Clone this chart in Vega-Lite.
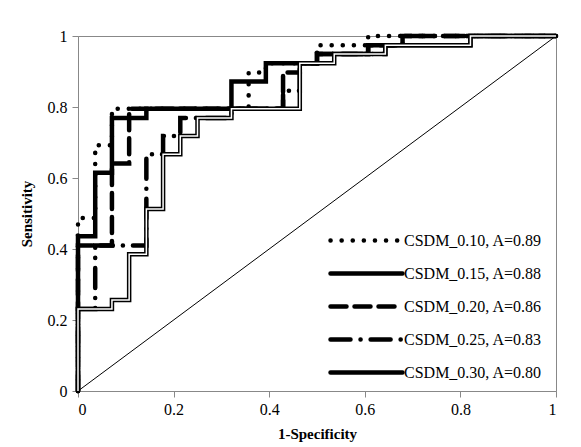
{
  "$schema": "https://vega.github.io/schema/vega-lite/v6.json",
  "width": 478,
  "height": 355,
  "autosize": {"type": "none"},
  "padding": {"left": 78, "top": 36, "right": 25, "bottom": 56},
  "background": "white",
  "config": {
    "view": {"stroke": "#888888", "strokeWidth": 1},
    "font": "Liberation Serif",
    "axis": {
      "grid": false,
      "domainColor": "#888888",
      "tickColor": "#888888",
      "tickSize": 6,
      "labelFont": "Liberation Serif",
      "labelFontSize": 16,
      "labelColor": "black",
      "titleFont": "Liberation Serif",
      "titleFontSize": 15,
      "titleFontWeight": "bold",
      "titleColor": "black"
    },
    "axisX": {"labelPadding": 4, "titlePadding": 9},
    "axisY": {"labelPadding": 5, "titlePadding": 13}
  },
  "datasets": {
    "curves": [
      {"s": "CSDM_0.10, A=0.89", "i": 0, "x": 0, "y": 0},
      {"s": "CSDM_0.10, A=0.89", "i": 1, "x": 0, "y": 0.487},
      {"s": "CSDM_0.10, A=0.89", "i": 2, "x": 0.036, "y": 0.487},
      {"s": "CSDM_0.10, A=0.89", "i": 3, "x": 0.036, "y": 0.692},
      {"s": "CSDM_0.10, A=0.89", "i": 4, "x": 0.071, "y": 0.692},
      {"s": "CSDM_0.10, A=0.89", "i": 5, "x": 0.071, "y": 0.795},
      {"s": "CSDM_0.10, A=0.89", "i": 6, "x": 0.357, "y": 0.795},
      {"s": "CSDM_0.10, A=0.89", "i": 7, "x": 0.357, "y": 0.897},
      {"s": "CSDM_0.10, A=0.89", "i": 8, "x": 0.393, "y": 0.897},
      {"s": "CSDM_0.10, A=0.89", "i": 9, "x": 0.393, "y": 0.923},
      {"s": "CSDM_0.10, A=0.89", "i": 10, "x": 0.5, "y": 0.923},
      {"s": "CSDM_0.10, A=0.89", "i": 11, "x": 0.5, "y": 0.974},
      {"s": "CSDM_0.10, A=0.89", "i": 12, "x": 0.607, "y": 0.974},
      {"s": "CSDM_0.10, A=0.89", "i": 13, "x": 0.607, "y": 1},
      {"s": "CSDM_0.10, A=0.89", "i": 14, "x": 1, "y": 1},

      {"s": "CSDM_0.15, A=0.88", "i": 0, "x": 0, "y": 0},
      {"s": "CSDM_0.15, A=0.88", "i": 1, "x": 0, "y": 0.436},
      {"s": "CSDM_0.15, A=0.88", "i": 2, "x": 0.036, "y": 0.436},
      {"s": "CSDM_0.15, A=0.88", "i": 3, "x": 0.036, "y": 0.615},
      {"s": "CSDM_0.15, A=0.88", "i": 4, "x": 0.071, "y": 0.615},
      {"s": "CSDM_0.15, A=0.88", "i": 5, "x": 0.071, "y": 0.769},
      {"s": "CSDM_0.15, A=0.88", "i": 6, "x": 0.143, "y": 0.769},
      {"s": "CSDM_0.15, A=0.88", "i": 7, "x": 0.143, "y": 0.795},
      {"s": "CSDM_0.15, A=0.88", "i": 8, "x": 0.321, "y": 0.795},
      {"s": "CSDM_0.15, A=0.88", "i": 9, "x": 0.321, "y": 0.872},
      {"s": "CSDM_0.15, A=0.88", "i": 10, "x": 0.393, "y": 0.872},
      {"s": "CSDM_0.15, A=0.88", "i": 11, "x": 0.393, "y": 0.923},
      {"s": "CSDM_0.15, A=0.88", "i": 12, "x": 0.5, "y": 0.923},
      {"s": "CSDM_0.15, A=0.88", "i": 13, "x": 0.5, "y": 0.949},
      {"s": "CSDM_0.15, A=0.88", "i": 14, "x": 0.607, "y": 0.949},
      {"s": "CSDM_0.15, A=0.88", "i": 15, "x": 0.607, "y": 0.974},
      {"s": "CSDM_0.15, A=0.88", "i": 16, "x": 0.821, "y": 0.974},
      {"s": "CSDM_0.15, A=0.88", "i": 17, "x": 0.821, "y": 1},
      {"s": "CSDM_0.15, A=0.88", "i": 18, "x": 1, "y": 1},

      {"s": "CSDM_0.20, A=0.86", "i": 0, "x": 0, "y": 0},
      {"s": "CSDM_0.20, A=0.86", "i": 1, "x": 0, "y": 0.41},
      {"s": "CSDM_0.20, A=0.86", "i": 2, "x": 0.071, "y": 0.41},
      {"s": "CSDM_0.20, A=0.86", "i": 3, "x": 0.071, "y": 0.641},
      {"s": "CSDM_0.20, A=0.86", "i": 4, "x": 0.107, "y": 0.641},
      {"s": "CSDM_0.20, A=0.86", "i": 5, "x": 0.107, "y": 0.795},
      {"s": "CSDM_0.20, A=0.86", "i": 6, "x": 0.429, "y": 0.795},
      {"s": "CSDM_0.20, A=0.86", "i": 7, "x": 0.429, "y": 0.897},
      {"s": "CSDM_0.20, A=0.86", "i": 8, "x": 0.464, "y": 0.897},
      {"s": "CSDM_0.20, A=0.86", "i": 9, "x": 0.464, "y": 0.923},
      {"s": "CSDM_0.20, A=0.86", "i": 10, "x": 0.5, "y": 0.923},
      {"s": "CSDM_0.20, A=0.86", "i": 11, "x": 0.5, "y": 0.949},
      {"s": "CSDM_0.20, A=0.86", "i": 12, "x": 0.607, "y": 0.949},
      {"s": "CSDM_0.20, A=0.86", "i": 13, "x": 0.607, "y": 0.974},
      {"s": "CSDM_0.20, A=0.86", "i": 14, "x": 0.679, "y": 0.974},
      {"s": "CSDM_0.20, A=0.86", "i": 15, "x": 0.679, "y": 1},
      {"s": "CSDM_0.20, A=0.86", "i": 16, "x": 1, "y": 1},

      {"s": "CSDM_0.25, A=0.83", "i": 0, "x": 0, "y": 0},
      {"s": "CSDM_0.25, A=0.83", "i": 1, "x": 0, "y": 0.231},
      {"s": "CSDM_0.25, A=0.83", "i": 2, "x": 0.036, "y": 0.231},
      {"s": "CSDM_0.25, A=0.83", "i": 3, "x": 0.036, "y": 0.41},
      {"s": "CSDM_0.25, A=0.83", "i": 4, "x": 0.143, "y": 0.41},
      {"s": "CSDM_0.25, A=0.83", "i": 5, "x": 0.143, "y": 0.667},
      {"s": "CSDM_0.25, A=0.83", "i": 6, "x": 0.178, "y": 0.667},
      {"s": "CSDM_0.25, A=0.83", "i": 7, "x": 0.178, "y": 0.718},
      {"s": "CSDM_0.25, A=0.83", "i": 8, "x": 0.214, "y": 0.718},
      {"s": "CSDM_0.25, A=0.83", "i": 9, "x": 0.214, "y": 0.769},
      {"s": "CSDM_0.25, A=0.83", "i": 10, "x": 0.321, "y": 0.769},
      {"s": "CSDM_0.25, A=0.83", "i": 11, "x": 0.321, "y": 0.795},
      {"s": "CSDM_0.25, A=0.83", "i": 12, "x": 0.429, "y": 0.795},
      {"s": "CSDM_0.25, A=0.83", "i": 13, "x": 0.429, "y": 0.846},
      {"s": "CSDM_0.25, A=0.83", "i": 14, "x": 0.464, "y": 0.846},
      {"s": "CSDM_0.25, A=0.83", "i": 15, "x": 0.464, "y": 0.923},
      {"s": "CSDM_0.25, A=0.83", "i": 16, "x": 0.5, "y": 0.923},
      {"s": "CSDM_0.25, A=0.83", "i": 17, "x": 0.5, "y": 0.949},
      {"s": "CSDM_0.25, A=0.83", "i": 18, "x": 0.643, "y": 0.949},
      {"s": "CSDM_0.25, A=0.83", "i": 19, "x": 0.643, "y": 0.974},
      {"s": "CSDM_0.25, A=0.83", "i": 20, "x": 0.679, "y": 0.974},
      {"s": "CSDM_0.25, A=0.83", "i": 21, "x": 0.679, "y": 1},
      {"s": "CSDM_0.25, A=0.83", "i": 22, "x": 1, "y": 1},

      {"s": "CSDM_0.30, A=0.80", "i": 0, "x": 0, "y": 0},
      {"s": "CSDM_0.30, A=0.80", "i": 1, "x": 0, "y": 0.231},
      {"s": "CSDM_0.30, A=0.80", "i": 2, "x": 0.071, "y": 0.231},
      {"s": "CSDM_0.30, A=0.80", "i": 3, "x": 0.071, "y": 0.256},
      {"s": "CSDM_0.30, A=0.80", "i": 4, "x": 0.107, "y": 0.256},
      {"s": "CSDM_0.30, A=0.80", "i": 5, "x": 0.107, "y": 0.385},
      {"s": "CSDM_0.30, A=0.80", "i": 6, "x": 0.143, "y": 0.385},
      {"s": "CSDM_0.30, A=0.80", "i": 7, "x": 0.143, "y": 0.513},
      {"s": "CSDM_0.30, A=0.80", "i": 8, "x": 0.178, "y": 0.513},
      {"s": "CSDM_0.30, A=0.80", "i": 9, "x": 0.178, "y": 0.667},
      {"s": "CSDM_0.30, A=0.80", "i": 10, "x": 0.214, "y": 0.667},
      {"s": "CSDM_0.30, A=0.80", "i": 11, "x": 0.214, "y": 0.718},
      {"s": "CSDM_0.30, A=0.80", "i": 12, "x": 0.25, "y": 0.718},
      {"s": "CSDM_0.30, A=0.80", "i": 13, "x": 0.25, "y": 0.769},
      {"s": "CSDM_0.30, A=0.80", "i": 14, "x": 0.321, "y": 0.769},
      {"s": "CSDM_0.30, A=0.80", "i": 15, "x": 0.321, "y": 0.795},
      {"s": "CSDM_0.30, A=0.80", "i": 16, "x": 0.464, "y": 0.795},
      {"s": "CSDM_0.30, A=0.80", "i": 17, "x": 0.464, "y": 0.923},
      {"s": "CSDM_0.30, A=0.80", "i": 18, "x": 0.536, "y": 0.923},
      {"s": "CSDM_0.30, A=0.80", "i": 19, "x": 0.536, "y": 0.949},
      {"s": "CSDM_0.30, A=0.80", "i": 20, "x": 0.643, "y": 0.949},
      {"s": "CSDM_0.30, A=0.80", "i": 21, "x": 0.643, "y": 0.974},
      {"s": "CSDM_0.30, A=0.80", "i": 22, "x": 0.821, "y": 0.974},
      {"s": "CSDM_0.30, A=0.80", "i": 23, "x": 0.821, "y": 1},
      {"s": "CSDM_0.30, A=0.80", "i": 24, "x": 1, "y": 1}
    ],
    "diag": [{"x": 0, "y": 0}, {"x": 1, "y": 1}]
  },
  "layer": [
    {
      "data": {"name": "diag"},
      "mark": {"type": "line", "color": "black", "strokeWidth": 1},
      "encoding": {
        "x": {"field": "x", "type": "quantitative", "scale": {"domain": [0, 1], "nice": false}, "axis": {"values": [0, 0.2, 0.4, 0.6, 0.8, 1], "format": "~g", "title": "1-Specificity"}},
        "y": {"field": "y", "type": "quantitative", "scale": {"domain": [0, 1], "nice": false}, "axis": {"values": [0, 0.1, 0.2, 0.3, 0.4, 0.5, 0.6, 0.7, 0.8, 0.9, 1], "format": "~g", "title": "Sensitivity"}}
      }
    },
    {
      "data": {"name": "curves"},
      "mark": {"type": "line", "color": "black", "strokeWidth": 4.5, "strokeCap": "round"},
      "encoding": {
        "x": {"field": "x", "type": "quantitative", "title": "1-Specificity"},
        "y": {"field": "y", "type": "quantitative", "title": "Sensitivity"},
        "order": {"field": "i", "type": "quantitative"},
        "strokeDash": {
          "field": "s", "type": "nominal",
          "scale": {
            "domain": ["CSDM_0.10, A=0.89", "CSDM_0.15, A=0.88", "CSDM_0.20, A=0.86", "CSDM_0.25, A=0.83", "CSDM_0.30, A=0.80"],
            "range": [[0.1, 11], [1, 0], [16, 8], [20, 10, 0.1, 10], [1, 0]]
          },
          "legend": {
            "title": null,
            "orient": "none",
            "legendX": 274,
            "legendY": 190,
            "symbolType": "M-3,0H3",
            "symbolSize": 576,
            "symbolStrokeWidth": 4.5,
            "symbolStrokeColor": "black",
            "labelFont": "Liberation Serif",
            "labelFontSize": 16,
            "labelColor": "black",
            "labelOffset": 23,
            "labelLimit": 300,
            "rowPadding": 9,
            "encode": {"symbols": {"update": {"strokeCap": {"value": "round"}}}}
          }
        }
      }
    },
    {
      "data": {"name": "curves"},
      "transform": [{"filter": "datum.s === 'CSDM_0.30, A=0.80'"}],
      "mark": {"type": "line", "color": "white", "strokeWidth": 1.5},
      "encoding": {
        "x": {"field": "x", "type": "quantitative", "title": "1-Specificity"},
        "y": {"field": "y", "type": "quantitative", "title": "Sensitivity"},
        "order": {"field": "i", "type": "quantitative"}
      }
    }
  ]
}
